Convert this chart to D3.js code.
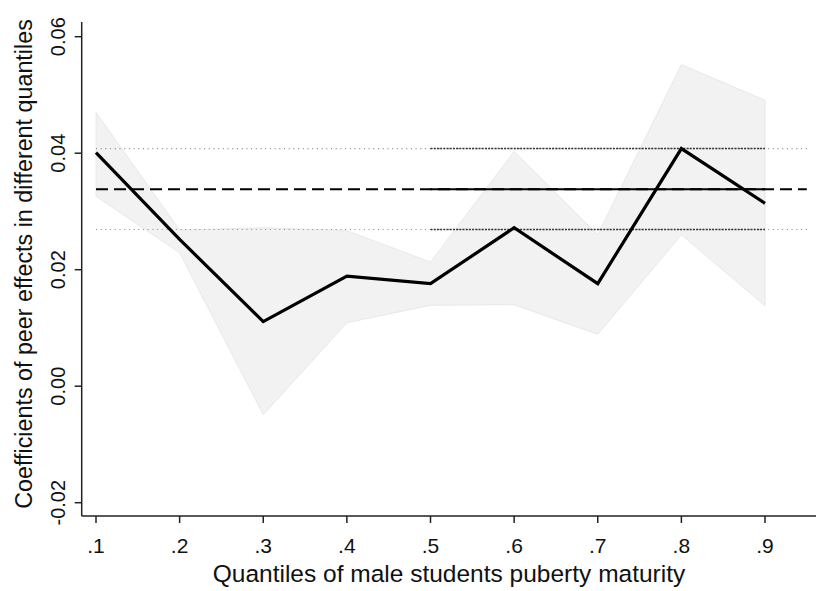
<!DOCTYPE html>
<html>
<head>
<meta charset="utf-8">
<script src="https://cdn.jsdelivr.net/npm/d3@7"></script>
<style>
  body { margin: 0; background: #fff; }
  text { font-family: "Liberation Sans", Arial, sans-serif; fill: #111; }
</style>
</head>
<body>
<div id="chart"></div>
<script>
const quantiles = [0.1, 0.2, 0.3, 0.4, 0.5, 0.6, 0.7, 0.8, 0.9];
const coef  = [0.0401, 0.0252, 0.0111, 0.0189, 0.0176, 0.0272, 0.0176, 0.0408, 0.0314];
const upper = [0.0470, 0.0268, 0.0272, 0.0267, 0.0213, 0.0403, 0.0260, 0.0552, 0.0491];
const lower = [0.0326, 0.0229, -0.0049, 0.0109, 0.0139, 0.0140, 0.0089, 0.0260, 0.0138];
const meanCoef = 0.0338, meanUpper = 0.0408, meanLower = 0.0269;
const xTicks = [0.1, 0.2, 0.3, 0.4, 0.5, 0.6, 0.7, 0.8, 0.9];
const xTickLabels = [".1", ".2", ".3", ".4", ".5", ".6", ".7", ".8", ".9"];
const yTicks = [-0.02, 0, 0.02, 0.04, 0.06];
const yTickLabels = ["-0.02", "0.00", "0.02", "0.04", "0.06"];

const width = 816, height = 591;
const svg = d3.select("#chart").append("svg")
    .attr("width", width)
    .attr("height", height);

const x = d3.scaleLinear().domain([0.1, 0.9]).range([96, 765]);
const y = d3.scaleLinear().domain([-0.02, 0.06]).range([502.7, 36.7]);
const axisX = 81.7, axisY = 516;

const data = quantiles.map((q, i) => ({q: q, c: coef[i], hi: upper[i], lo: lower[i]}));

// confidence band
svg.append("path")
    .datum(data)
    .attr("d", d3.area().x(d => x(d.q)).y0(d => y(d.lo)).y1(d => y(d.hi)))
    .attr("fill", "#f2f2f2")
    .attr("stroke", "#e8e8e8")
    .attr("stroke-width", 1);

// reference lines
const xEnd = x(0.95);
function hline(v, x1, x2, color, w, dash) {
    svg.append("line")
        .attr("x1", x1).attr("x2", x2)
        .attr("y1", y(v)).attr("y2", y(v))
        .attr("stroke", color)
        .attr("stroke-width", w)
        .attr("stroke-dasharray", dash);
}
hline(meanUpper, x(0.1), xEnd, "#8a8a8a", 1.2, "1,3.7");
hline(meanLower, x(0.1), xEnd, "#8a8a8a", 1.2, "1,3.7");
hline(meanUpper, x(0.5), x(0.9), "#333", 1.5, "2,1.2");
hline(meanLower, x(0.5), x(0.9), "#333", 1.5, "2,1.2");
hline(meanCoef, x(0.1), xEnd, "#000", 2, "12,6");
hline(meanCoef, x(0.5), x(0.9), "#000", 2, null);

// coefficient line
svg.append("path")
    .datum(data)
    .attr("d", d3.line().x(d => x(d.q)).y(d => y(d.c)))
    .attr("fill", "none")
    .attr("stroke", "#000")
    .attr("stroke-width", 3.2)
    .attr("stroke-linejoin", "miter");

// axes
svg.append("line")
    .attr("x1", axisX).attr("x2", axisX)
    .attr("y1", 22).attr("y2", axisY)
    .attr("stroke", "#222").attr("stroke-width", 1.5);
svg.append("line")
    .attr("x1", axisX).attr("x2", width)
    .attr("y1", axisY).attr("y2", axisY)
    .attr("stroke", "#222").attr("stroke-width", 1.5);

svg.selectAll(".xtick")
    .data(xTicks)
    .enter().append("line")
    .attr("x1", d => x(d)).attr("x2", d => x(d))
    .attr("y1", axisY).attr("y2", axisY + 7)
    .attr("stroke", "#222").attr("stroke-width", 1.5);

svg.selectAll(".xlab")
    .data(xTicks)
    .enter().append("text")
    .attr("x", d => x(d))
    .attr("y", 553)
    .attr("text-anchor", "middle")
    .style("font-size", "21px")
    .text((d, i) => xTickLabels[i]);

svg.selectAll(".ytick")
    .data(yTicks)
    .enter().append("line")
    .attr("x1", axisX - 7).attr("x2", axisX)
    .attr("y1", d => y(d)).attr("y2", d => y(d))
    .attr("stroke", "#222").attr("stroke-width", 1.5);

svg.selectAll(".ylab")
    .data(yTicks)
    .enter().append("text")
    .attr("transform", d => "translate(65," + y(d) + ") rotate(-90)")
    .attr("text-anchor", "middle")
    .style("font-size", "20px")
    .text((d, i) => yTickLabels[i]);

svg.append("text")
    .attr("x", 449)
    .attr("y", 582)
    .attr("text-anchor", "middle")
    .style("font-size", "24.5px")
    .text("Quantiles of male students puberty maturity");

svg.append("text")
    .attr("transform", "translate(32,264) rotate(-90)")
    .attr("text-anchor", "middle")
    .style("font-size", "23.3px")
    .text("Coefficients of peer effects in different quantiles");
</script>
</body>
</html>
